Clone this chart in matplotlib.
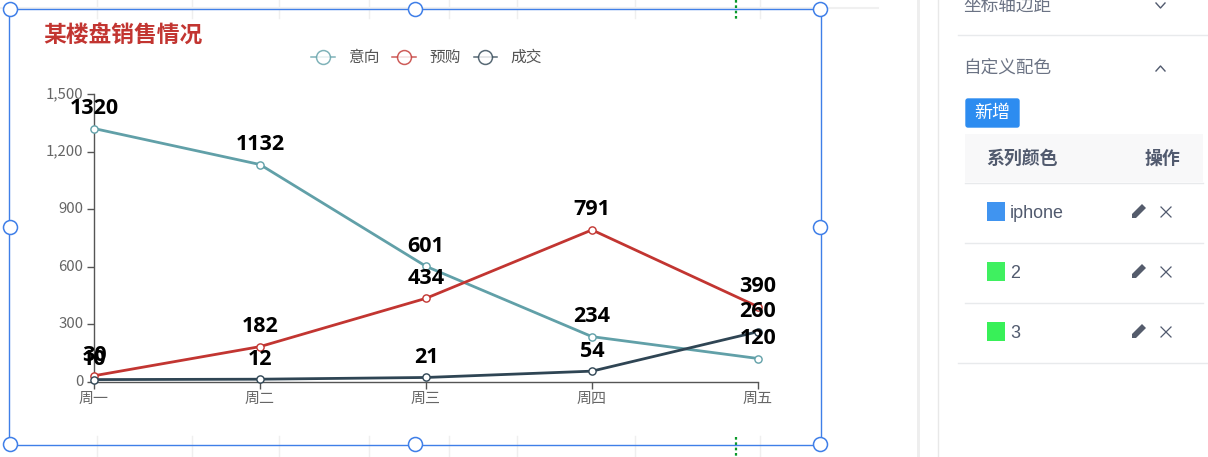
import matplotlib
matplotlib.use("Agg")
import matplotlib.pyplot as plt
from matplotlib.patches import Circle, Rectangle, FancyBboxPatch, Polygon
from matplotlib.transforms import ScaledTranslation

plt.rcParams['font.family'] = ['Noto Sans CJK SC', 'DejaVu Sans']

dias = ["周一", "周二", "周三", "周四", "周五"]
yticks = [0, 300, 600, 900, 1200, 1500]
yiconos = ["0", "300", "600", "900", "1,200", "1,500"]

nombres = ["意向", "预购", "成交"]
colores = ["#61a0a8", "#c23531", "#2f4554"]
yixiang = [1320, 1132, 601, 234, 120]
yugou = [30, 182, 434, 791, 390]
chengjiao = [10, 12, 21, 54, 260]
series = [yixiang, yugou, chengjiao]

W, H = 1208, 457
fig = plt.figure(figsize=(W / 100, H / 100), dpi=100, facecolor="white")

# ------------ capa del editor (coordenadas en pixeles)
ui = fig.add_axes([0, 0, 1, 1], zorder=0)
ui.set_xlim(0, W)
ui.set_ylim(H, 0)
ui.axis("off")

azul = "#3f7fe8"
gris = "#efefef"
for x in [97, 192, 279, 369, 449, 517, 635, 760]:
    ui.plot([x, x], [0, 18], color=gris, lw=1)
    ui.plot([x, x], [436, H], color=gris, lw=1)
ui.plot([0, 878], [8, 8], color="#f0f0f0", lw=1.5)
ui.plot([736, 736], [0, 19], color="#0a9a2a", lw=1.6, ls=(0, (1.2, 1.2)))
ui.plot([736, 736], [437, H], color="#0a9a2a", lw=1.6, ls=(0, (1.2, 1.2)))

# panel derecho
ui.add_patch(Rectangle((917, 0), 3, H, color="#eeeeee", lw=0))
ui.plot([937.5, 937.5], [0, H], color="#e8e8e8", lw=1)
for y, x0, x1 in [(35, 958, 1208), (182.5, 965, 1203), (242.5, 965, 1203),
                  (302.5, 965, 1203), (362.5, 958, 1208)]:
    ui.plot([x0, x1], [y, y], color="#e8eaec", lw=1)
ui.add_patch(Rectangle((965, 134), 238, 48, color="#f8f8f9", lw=0))
panel = "#515a6e"
ui.text(963, 6, "坐标轴边距", fontsize=12.7, color=panel, va="center", alpha=0.85)
ui.text(963, 68, "自定义配色", fontsize=12.7, color=panel, va="center", alpha=0.85)
ui.plot([1156, 1160.5, 1165], [3, 8, 3], color=panel, lw=1)
ui.plot([1156, 1160.5, 1165], [71, 66, 71], color=panel, lw=1)
ui.add_patch(FancyBboxPatch((966, 99), 53, 28, boxstyle="round,pad=0,rounding_size=2",
                            fc="#2d8cf0", ec="#2d8cf0", lw=1))
ui.text(992.5, 113, "新增", fontsize=13, color="white", ha="center", va="center")
ui.text(1022, 159, "系列颜色", fontsize=12.9, color=panel, weight="bold", ha="center", va="center")
ui.text(1162.5, 159, "操作", fontsize=12.9, color=panel, weight="bold", ha="center", va="center")

filas = ["iphone", "2", "3"]
swatches = ["#4094f0", "#3ff060", "#38f058"]
for i, (fila, sw) in enumerate(zip(filas, swatches)):
    yc = 212 + 60 * i
    ui.add_patch(Rectangle((987, yc - 10), 18, 19, color=sw, lw=0))
    ui.text(1010, yc + 1.5, fila, fontsize=12.9, color=panel, va="center", family="Liberation Sans")
    ui.add_patch(Polygon([(1132, yc + 6), (1132, yc + 2), (1142, yc - 8), (1146, yc - 4), (1136, yc + 6)],
                         color="#555c6c", lw=0))
    ui.plot([1161, 1171], [yc - 5, yc + 5], color=panel, lw=0.9)
    ui.plot([1161, 1171], [yc + 5, yc - 5], color=panel, lw=0.9)

# ------------ Graficar resultados
ax = fig.add_axes([94 / W, 1 - 381.5 / H, (758 - 94) / W, 287.5 / H], zorder=2)
ax.patch.set_alpha(0)
ax.set_xlim(0, len(dias) - 1)
ax.set_ylim(0, 1500)

xs = list(range(len(dias)))
handles = []
for nombre, color, valores in zip(nombres, colores, series):
    ax.plot(xs, valores, color=color, lw=2, marker="o", ms=5.2, mfc="white",
            mec=color, mew=1, label=nombre, clip_on=False, zorder=3)
    handles.append(plt.Line2D([], [], color=color, lw=1.1, marker="o", ms=10, mfc="white",
                              mec=color, mew=1.1, alpha=0.8, label=nombre))
    for x, v in zip(xs, valores):
        ax.annotate(str(v), (x, v), xytext=(0, 14.5), textcoords="offset points", ha="center",
                    va="center", fontsize=15.5, weight="bold", color="black",
                    family=["Open Sans", "DejaVu Sans"], zorder=5, annotation_clip=False)

for lado in ["top", "right"]:
    ax.spines[lado].set_visible(False)
for lado in ["left", "bottom"]:
    ax.spines[lado].set_color("#555555")
    ax.spines[lado].set_linewidth(1)
ax.set_xticks(xs)
ax.set_xticklabels(dias)
ax.set_yticks(yticks)
ax.set_yticklabels(yiconos)
ax.tick_params(axis="both", length=5, width=1, color="#555555", labelcolor="#666666",
               labelsize=10.8, pad=2.5)
sube = ScaledTranslation(0, 1 / 72, fig.dpi_scale_trans)
for etiqueta in ax.get_yticklabels():
    etiqueta.set_transform(etiqueta.get_transform() + sube)

fig.legend(handles=handles, loc="center", bbox_to_anchor=(426.5 / W, 1 - 57.5 / H), ncols=3,
           frameon=False, fontsize=11.3, labelcolor="#555555", handlelength=1.5,
           handletextpad=0.85, columnspacing=0.82, borderpad=0, borderaxespad=0)

ui.text(43.5, 36, "某楼盘销售情况", fontsize=16.4, weight="bold", color="#c23531", va="center")

# ------------ caja de seleccion
top = fig.add_axes([0, 0, 1, 1], zorder=4)
top.set_xlim(0, W)
top.set_ylim(H, 0)
top.axis("off")
top.patch.set_alpha(0)
top.add_patch(Rectangle((9, 9), 812, 436, fill=False, ec=azul, lw=1))
for hx in [10.5, 415.5, 820.5]:
    for hy in [9.5, 227.5, 444.5]:
        if hx == 415.5 and hy == 227.5:
            continue
        top.add_patch(Circle((hx, hy), 7, fc="white", ec=azul, lw=1.1))

fig.savefig("out.png", dpi=100)
